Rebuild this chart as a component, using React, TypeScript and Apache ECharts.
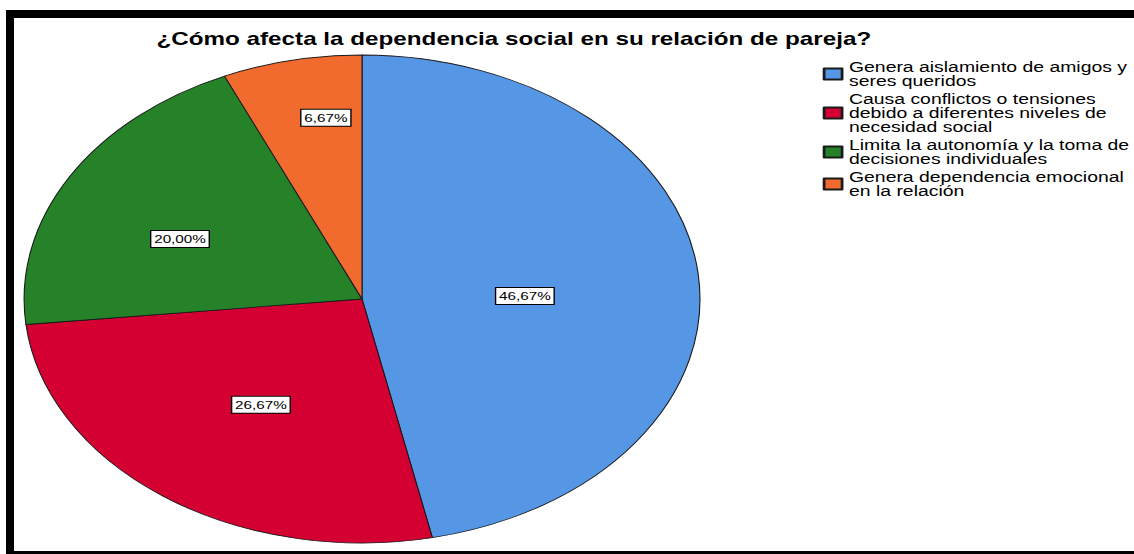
import React, { useEffect, useRef } from "react";
import * as echarts from "echarts";

const TITLE = "¿Cómo afecta la dependencia social en su relación de pareja?";
const CATEGORIES = [
  "Genera aislamiento de amigos y\nseres queridos",
  "Causa conflictos o tensiones\ndebido a diferentes niveles de\nnecesidad social",
  "Limita la autonomía y la toma de\ndecisiones individuales",
  "Genera dependencia emocional\nen la relación",
];
const VALUES = [46.67, 26.67, 20.0, 6.67];
const COLORS = ["#5596e5", "#d30031", "#268229", "#f26b2e"];

// layout
const W = 1134;
const H = 554;
const STRETCH = 1.385; // reference image is stretched horizontally
const IW = W / STRETCH;
const CX = 261.4;
const CY = 299;
const R = 244;
const LABEL_RADIUS = [0.482, 0.527, 0.592, 0.75];
const LABEL_ANGLE_SHIFT = [4.5, -1.4, -5.5, 3.8];
const FONT = 'Arial, "Liberation Sans", sans-serif';

export default function App() {
  const ref = useRef<HTMLDivElement>(null);
  useEffect(() => {
    if (!ref.current) return;
    const chart = echarts.init(ref.current, undefined, { renderer: "svg" });
    const total = VALUES.reduce((a, b) => a + b, 0);
    const mids: number[] = [];
    let acc = 0;
    VALUES.forEach((v, i) => {
      mids.push(((acc + v / 2) / total) * 2 * Math.PI + (LABEL_ANGLE_SHIFT[i] * Math.PI) / 180);
      acc += v;
    });
    chart.setOption({
      animation: false,
      backgroundColor: "#ffffff",
      title: {
        text: TITLE,
        left: 366,
        top: 25,
        textAlign: "center",
        textStyle: { fontFamily: FONT, fontWeight: "bold", fontSize: 17.5, color: "#000" },
      },
      legend: {
        orient: "vertical",
        left: 589,
        top: 55,
        itemWidth: 13,
        itemHeight: 11,
        itemGap: 4,
        icon: "rect",
        selectedMode: false,
        data: CATEGORIES,
        textStyle: { fontFamily: FONT, fontSize: 14, color: "#000", lineHeight: 14 },
      },
      graphic: [
        { type: "rect", shape: { x: 6 / STRETCH, y: 10, width: IW, height: 8 }, style: { fill: "#000" } },
        { type: "rect", shape: { x: 6 / STRETCH, y: 10, width: 8 / STRETCH, height: H }, style: { fill: "#000" } },
        { type: "rect", shape: { x: 6 / STRETCH, y: 551, width: IW, height: 6 }, style: { fill: "#000" } },
      ],
      series: [
        {
          type: "pie",
          center: [CX, CY],
          radius: R,
          startAngle: 90,
          clockwise: true,
          data: CATEGORIES.map((name, i) => ({
            name,
            value: VALUES[i],
            itemStyle: { color: COLORS[i] },
          })),
          itemStyle: { borderColor: "#1a1a1a", borderWidth: 0.8 },
          emphasis: { disabled: true },
          label: {
            position: "inside",
            formatter: (p: any) => p.value.toFixed(2).replace(".", ",") + "%",
            fontFamily: FONT,
            fontSize: 11,
            color: "#000",
            backgroundColor: "#fff",
            borderColor: "#000",
            borderWidth: 1,
            padding: [3, 2, 2, 2],
          },
          labelLayout: (p: any) => {
            const i = p.dataIndex;
            const a = mids[i];
            const tx = CX + Math.sin(a) * R * LABEL_RADIUS[i];
            const ty = CY - Math.cos(a) * R * LABEL_RADIUS[i];
            const r = p.labelRect;
            return { dx: tx - (r.x + r.width / 2), dy: ty - (r.y + r.height / 2) };
          },
        },
      ],
    });
    return () => chart.dispose();
  }, []);
  return (
    <div
      ref={ref}
      style={{
        position: "fixed",
        left: 0,
        top: 0,
        width: IW,
        height: H,
        transform: `scaleX(${STRETCH})`,
        transformOrigin: "0 0",
      }}
    />
  );
}
